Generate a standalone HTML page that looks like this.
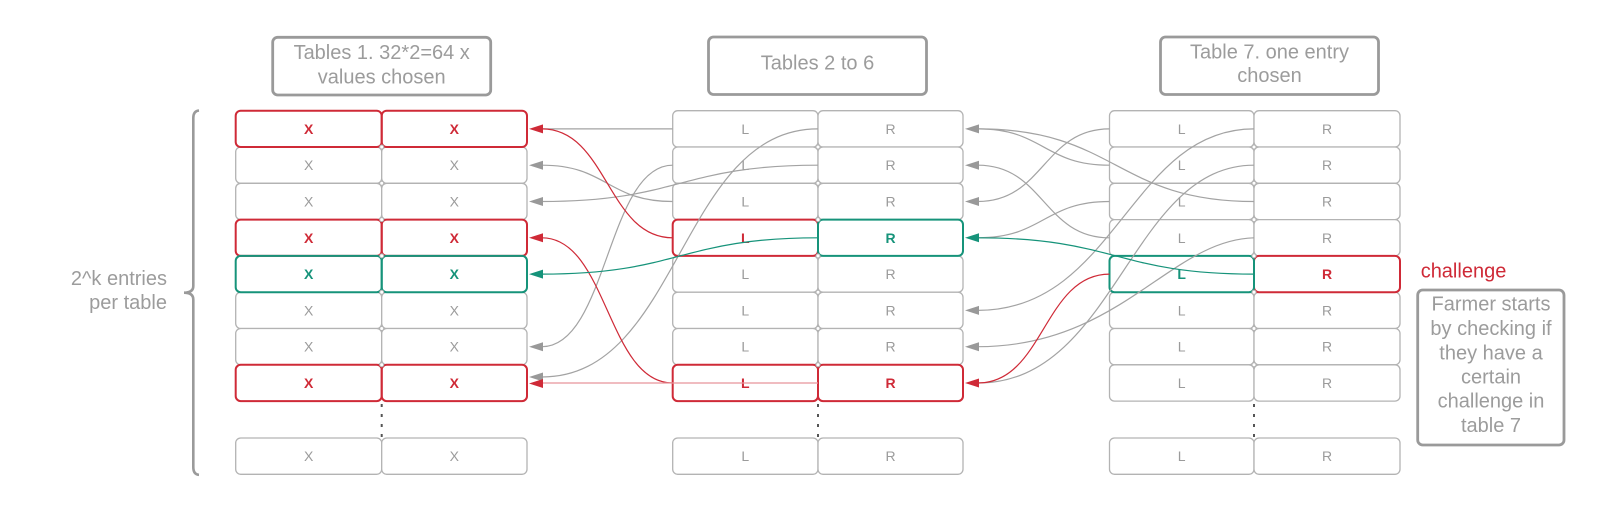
<!DOCTYPE html>
<html>
<head>
<meta charset="utf-8">
<style>
html,body{margin:0;padding:0;background:#fff;}
svg{display:block;}
text{font-family:"Liberation Sans",Arial,sans-serif;}
</style>
</head>
<body>
<svg width="1600" height="511" viewBox="0 0 1600 511" xmlns="http://www.w3.org/2000/svg">
<rect x="0" y="0" width="1600" height="511" fill="#fff"/>

<!-- Header boxes -->
<g fill="#fff" stroke="#9a9a9a" stroke-width="2.8">
  <rect x="272.7" y="37.3" width="218" height="57.7" rx="5"/>
  <rect x="708.5" y="37" width="218" height="57.5" rx="5"/>
  <rect x="1160.5" y="37" width="218" height="57.5" rx="5"/>
  <rect x="1417.7" y="290" width="146.3" height="155" rx="5"/>
</g>
<g fill="#9c9c9c" font-size="20" text-anchor="middle">
  <text x="381.7" y="59">Tables 1. 32*2=64 x</text>
  <text x="381.7" y="83.3">values chosen</text>
  <text x="817.5" y="69.5">Tables 2 to 6</text>
  <text x="1269.5" y="58.5">Table 7. one entry</text>
  <text x="1269.5" y="82">chosen</text>
  <text x="1491" y="310.7">Farmer starts</text>
  <text x="1491" y="335">by checking if</text>
  <text x="1491" y="359.3">they have a</text>
  <text x="1491" y="383.5">certain</text>
  <text x="1491" y="407.7">challenge in</text>
  <text x="1491" y="431.8">table 7</text>
</g>
<text x="1420.7" y="277.3" font-size="20" fill="#cf2a37">challenge</text>

<!-- Left brace and label -->
<path d="M199,110.5 Q193.3,111 193.3,118 L193.3,286 Q193.3,292.7 184,292.7 Q193.3,292.7 193.3,299.5 L193.3,467 Q193.3,474.5 199,474.8" fill="none" stroke="#9a9a9a" stroke-width="2.6"/>
<g fill="#9c9c9c" font-size="20" text-anchor="end">
  <text x="167" y="285">2^k entries</text>
  <text x="167" y="309">per table</text>
</g>

<!-- Table cells -->
<g fill="#fff" stroke="#b3b3b3" stroke-width="1.3">
  <!-- Table 1 -->
  <rect x="235.7" y="110.7" width="146" height="36.3" rx="5"/><rect x="381.7" y="110.7" width="145.3" height="36.3" rx="5"/>
  <rect x="235.7" y="147" width="146" height="36.3" rx="5"/><rect x="381.7" y="147" width="145.3" height="36.3" rx="5"/>
  <rect x="235.7" y="183.3" width="146" height="36.3" rx="5"/><rect x="381.7" y="183.3" width="145.3" height="36.3" rx="5"/>
  <rect x="235.7" y="219.6" width="146" height="36.3" rx="5"/><rect x="381.7" y="219.6" width="145.3" height="36.3" rx="5"/>
  <rect x="235.7" y="255.9" width="146" height="36.3" rx="5"/><rect x="381.7" y="255.9" width="145.3" height="36.3" rx="5"/>
  <rect x="235.7" y="292.2" width="146" height="36.3" rx="5"/><rect x="381.7" y="292.2" width="145.3" height="36.3" rx="5"/>
  <rect x="235.7" y="328.5" width="146" height="36.3" rx="5"/><rect x="381.7" y="328.5" width="145.3" height="36.3" rx="5"/>
  <rect x="235.7" y="364.8" width="146" height="36.3" rx="5"/><rect x="381.7" y="364.8" width="145.3" height="36.3" rx="5"/>
  <rect x="235.7" y="438" width="146" height="36.3" rx="5"/><rect x="381.7" y="438" width="145.3" height="36.3" rx="5"/>
  <!-- Tables 2-6 -->
  <rect x="672.7" y="110.7" width="145.3" height="36.3" rx="5"/><rect x="818" y="110.7" width="145" height="36.3" rx="5"/>
  <rect x="672.7" y="147" width="145.3" height="36.3" rx="5"/><rect x="818" y="147" width="145" height="36.3" rx="5"/>
  <rect x="672.7" y="183.3" width="145.3" height="36.3" rx="5"/><rect x="818" y="183.3" width="145" height="36.3" rx="5"/>
  <rect x="672.7" y="219.6" width="145.3" height="36.3" rx="5"/><rect x="818" y="219.6" width="145" height="36.3" rx="5"/>
  <rect x="672.7" y="255.9" width="145.3" height="36.3" rx="5"/><rect x="818" y="255.9" width="145" height="36.3" rx="5"/>
  <rect x="672.7" y="292.2" width="145.3" height="36.3" rx="5"/><rect x="818" y="292.2" width="145" height="36.3" rx="5"/>
  <rect x="672.7" y="328.5" width="145.3" height="36.3" rx="5"/><rect x="818" y="328.5" width="145" height="36.3" rx="5"/>
  <rect x="672.7" y="364.8" width="145.3" height="36.3" rx="5"/><rect x="818" y="364.8" width="145" height="36.3" rx="5"/>
  <rect x="672.7" y="438" width="145.3" height="36.3" rx="5"/><rect x="818" y="438" width="145" height="36.3" rx="5"/>
  <!-- Table 7 -->
  <rect x="1109.5" y="110.7" width="144.5" height="36.3" rx="5"/><rect x="1254" y="110.7" width="146" height="36.3" rx="5"/>
  <rect x="1109.5" y="147" width="144.5" height="36.3" rx="5"/><rect x="1254" y="147" width="146" height="36.3" rx="5"/>
  <rect x="1109.5" y="183.3" width="144.5" height="36.3" rx="5"/><rect x="1254" y="183.3" width="146" height="36.3" rx="5"/>
  <rect x="1109.5" y="219.6" width="144.5" height="36.3" rx="5"/><rect x="1254" y="219.6" width="146" height="36.3" rx="5"/>
  <rect x="1109.5" y="255.9" width="144.5" height="36.3" rx="5"/><rect x="1254" y="255.9" width="146" height="36.3" rx="5"/>
  <rect x="1109.5" y="292.2" width="144.5" height="36.3" rx="5"/><rect x="1254" y="292.2" width="146" height="36.3" rx="5"/>
  <rect x="1109.5" y="328.5" width="144.5" height="36.3" rx="5"/><rect x="1254" y="328.5" width="146" height="36.3" rx="5"/>
  <rect x="1109.5" y="364.8" width="144.5" height="36.3" rx="5"/><rect x="1254" y="364.8" width="146" height="36.3" rx="5"/>
  <rect x="1109.5" y="438" width="144.5" height="36.3" rx="5"/><rect x="1254" y="438" width="146" height="36.3" rx="5"/>
</g>

<!-- Highlighted cells -->
<g fill="none" stroke-width="2">
  <g stroke="#cf2a37">
    <rect x="235.7" y="110.7" width="146" height="36.3" rx="5"/><rect x="381.7" y="110.7" width="145.3" height="36.3" rx="5"/>
    <rect x="235.7" y="219.6" width="146" height="36.3" rx="5"/><rect x="381.7" y="219.6" width="145.3" height="36.3" rx="5"/>
    <rect x="235.7" y="364.8" width="146" height="36.3" rx="5"/><rect x="381.7" y="364.8" width="145.3" height="36.3" rx="5"/>
    <rect x="672.7" y="219.6" width="145.3" height="36.3" rx="5"/>
    <rect x="672.7" y="364.8" width="145.3" height="36.3" rx="5"/><rect x="818" y="364.8" width="145" height="36.3" rx="5"/>
    <rect x="1254" y="255.9" width="146" height="36.3" rx="5"/>
  </g>
  <g stroke="#16937a">
    <rect x="235.7" y="255.9" width="146" height="36.3" rx="5"/><rect x="381.7" y="255.9" width="145.3" height="36.3" rx="5"/>
    <rect x="818" y="219.6" width="145" height="36.3" rx="5"/>
    <rect x="1109.5" y="255.9" width="144.5" height="36.3" rx="5"/>
  </g>
</g>

<!-- junction markers -->
<g fill="#fff" stroke="#b3b3b3" stroke-width="1">
  <circle cx="381.7" cy="147" r="2"/><circle cx="381.7" cy="183.3" r="2"/><circle cx="381.7" cy="219.6" r="2"/><circle cx="381.7" cy="255.9" r="2"/><circle cx="381.7" cy="292.2" r="2"/><circle cx="381.7" cy="328.5" r="2"/><circle cx="381.7" cy="364.8" r="2"/>
  <circle cx="818" cy="147" r="2"/><circle cx="818" cy="183.3" r="2"/><circle cx="818" cy="219.6" r="2"/><circle cx="818" cy="255.9" r="2"/><circle cx="818" cy="292.2" r="2"/><circle cx="818" cy="328.5" r="2"/><circle cx="818" cy="364.8" r="2"/>
  <circle cx="1254" cy="147" r="2"/><circle cx="1254" cy="183.3" r="2"/><circle cx="1254" cy="219.6" r="2"/><circle cx="1254" cy="255.9" r="2"/><circle cx="1254" cy="292.2" r="2"/><circle cx="1254" cy="328.5" r="2"/><circle cx="1254" cy="364.8" r="2"/>
</g>

<!-- dotted continuation -->
<g stroke="#555" stroke-width="2" stroke-dasharray="3 7">
  <line x1="381.7" y1="404" x2="381.7" y2="438"/>
  <line x1="818" y1="404" x2="818" y2="438"/>
  <line x1="1254" y1="404" x2="1254" y2="438"/>
</g>

<!-- Cell text -->
<g font-size="14" text-anchor="middle" fill="#9b9b9b">
  <text x="308.7" y="170.2">X</text><text x="454.3" y="170.2">X</text>
  <text x="308.7" y="206.5">X</text><text x="454.3" y="206.5">X</text>
  <text x="308.7" y="315.4">X</text><text x="454.3" y="315.4">X</text>
  <text x="308.7" y="351.7">X</text><text x="454.3" y="351.7">X</text>
  <text x="308.7" y="461">X</text><text x="454.3" y="461">X</text>

  <text x="745.3" y="133.9">L</text><text x="890.5" y="133.9">R</text>
  <text x="745.3" y="170.2">L</text><text x="890.5" y="170.2">R</text>
  <text x="745.3" y="206.5">L</text><text x="890.5" y="206.5">R</text>
  <text x="745.3" y="279.1">L</text><text x="890.5" y="279.1">R</text>
  <text x="745.3" y="315.4">L</text><text x="890.5" y="315.4">R</text>
  <text x="745.3" y="351.7">L</text><text x="890.5" y="351.7">R</text>
  <text x="745.3" y="461">L</text><text x="890.5" y="461">R</text>

  <text x="1181.7" y="133.9">L</text><text x="1327" y="133.9">R</text>
  <text x="1181.7" y="170.2">L</text><text x="1327" y="170.2">R</text>
  <text x="1181.7" y="206.5">L</text><text x="1327" y="206.5">R</text>
  <text x="1181.7" y="242.8">L</text><text x="1327" y="242.8">R</text>
  <text x="1181.7" y="315.4">L</text><text x="1327" y="315.4">R</text>
  <text x="1181.7" y="351.7">L</text><text x="1327" y="351.7">R</text>
  <text x="1181.7" y="388">L</text><text x="1327" y="388">R</text>
  <text x="1181.7" y="461">L</text><text x="1327" y="461">R</text>
</g>
<g font-size="14" text-anchor="middle" font-weight="bold" fill="#cf2a37">
  <text x="308.7" y="133.9">X</text><text x="454.3" y="133.9">X</text>
  <text x="308.7" y="242.8">X</text><text x="454.3" y="242.8">X</text>
  <text x="308.7" y="388">X</text><text x="454.3" y="388">X</text>
  <text x="745.3" y="242.8">L</text>
  <text x="745.3" y="388">L</text><text x="890.5" y="388">R</text>
  <text x="1327" y="279.1">R</text>
</g>
<g font-size="14" text-anchor="middle" font-weight="bold" fill="#16937a">
  <text x="308.7" y="279.1">X</text><text x="454.3" y="279.1">X</text>
  <text x="890.5" y="242.8">R</text>
  <text x="1181.7" y="279.1">L</text>
</g>

<!-- Connectors: Tables 2-6 -> Table 1 -->
<g fill="none" stroke-width="1.2">
  <g stroke="#a3a3a3">
    <path d="M672.7,128.9 L542,128.9"/>
    <path d="M672.7,201.5 C607.35,201.5 607.35,165.2 542,165.2"/>
    <path d="M818,165.2 C680,165.2 680,201.5 542,201.5"/>
    <path d="M672.7,165.2 C607.35,165.2 607.35,346.7 542,346.7"/>
    <path d="M818,128.9 C680,128.9 680,377 542,377"/>
  </g>
  <g stroke="#cf2a37">
    <path d="M672.7,237.8 C607.35,237.8 607.35,128.9 542,128.9"/>
    <path d="M672.7,383 C607.35,383 607.35,237.8 542,237.8"/>
  </g>
  <path d="M818,383 L542,383" stroke="#e8959b"/>
  <path d="M818,237.8 C680,237.8 680,274.1 542,274.1" stroke="#16937a"/>
</g>
<g fill="#999">
  <polygon points="529,165.2 543,160.7 543,169.7"/>
  <polygon points="529,201.5 543,197 543,206"/>
  <polygon points="529,346.7 543,342.2 543,351.2"/>
  <polygon points="529,377 543,372.5 543,381.5"/>
</g>
<g fill="#cf2a37">
  <polygon points="529,128.9 543,124.4 543,133.4"/>
  <polygon points="529,237.8 543,233.3 543,242.3"/>
  <polygon points="529,383.5 543,379 543,388"/>
</g>
<polygon points="529,274.1 543,269.6 543,278.6" fill="#16937a"/>

<!-- Connectors: Table 7 -> Tables 2-6 -->
<g fill="none" stroke-width="1.2">
  <g stroke="#a3a3a3">
    <path d="M1109.5,128.9 C1043.75,128.9 1043.75,201.5 978,201.5"/>
    <path d="M1109.5,165.2 C1043.75,165.2 1043.75,128.9 978,128.9"/>
    <path d="M1254,201.5 C1116,201.5 1116,128.9 978,128.9"/>
    <path d="M1109.5,201.5 C1043.75,201.5 1043.75,237.8 978,237.8"/>
    <path d="M1109.5,237.8 C1043.75,237.8 1043.75,165.2 978,165.2"/>
    <path d="M1254,128.9 C1130,128.9 1116,310.4 978,310.4"/>
    <path d="M1254,165.2 C1130,165.2 1116,383 978,383"/>
    <path d="M1254,237.8 C1170,240 1120,346.7 978,346.7"/>
  </g>
  <path d="M1109.5,274.1 C1043.75,274.1 1043.75,383 978,383" stroke="#cf2a37"/>
  <path d="M1254,274.1 C1116,274.1 1116,237.8 978,237.8" stroke="#16937a"/>
</g>
<g fill="#999">
  <polygon points="965,128.9 979,124.4 979,133.4"/>
  <polygon points="965,165.2 979,160.7 979,169.7"/>
  <polygon points="965,201.5 979,197 979,206"/>
  <polygon points="965,310.4 979,305.9 979,314.9"/>
  <polygon points="965,346.7 979,342.2 979,351.2"/>
</g>
<polygon points="965,237.8 979,233.3 979,242.3" fill="#16937a"/>
<polygon points="965,383 979,378.5 979,387.5" fill="#cf2a37"/>

</svg>
</body>
</html>
